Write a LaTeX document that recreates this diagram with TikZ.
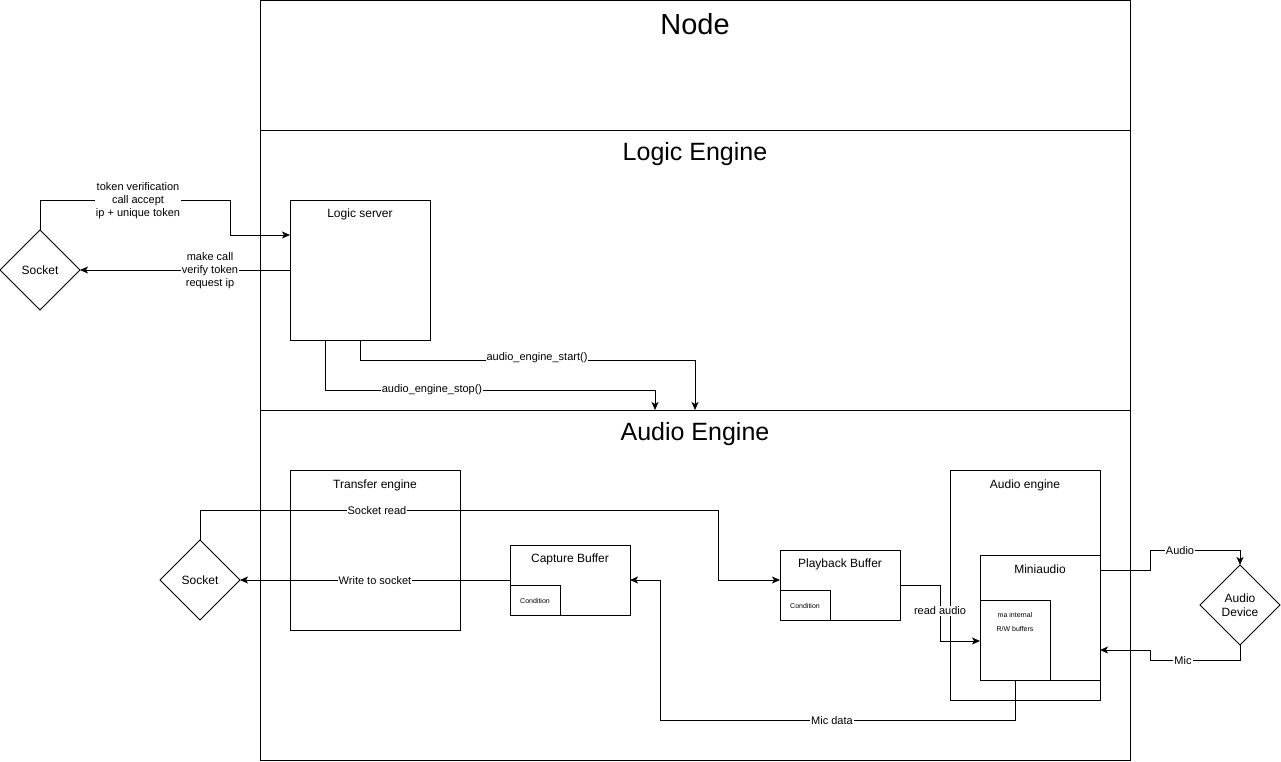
\documentclass[tikz,border=0pt]{standalone}
\usepackage{fontspec}
\setmainfont{Liberation Sans}
\usetikzlibrary{shapes.geometric,arrows.meta}
\begin{document}
\begin{tikzpicture}[x=1pt,y=-1pt,line width=1pt,
  rect/.style 2 args={draw,anchor=north west,inner sep=0pt,outer sep=0pt,minimum width=#1pt,minimum height=#2pt},
  dia/.style={draw,diamond,aspect=1,inner sep=0pt,outer sep=0pt,minimum width=80pt,minimum height=80pt,align=center,font=\fontsize{12}{14}\selectfont},
  title/.style={font=\fontsize{25}{28}\selectfont,inner sep=0pt},
  blbl/.style={font=\fontsize{12}{14}\selectfont,inner sep=0pt},
  tiny/.style={font=\fontsize{7}{14}\selectfont,inner sep=0pt,align=center},
  elbl/.style={font=\fontsize{11}{13}\selectfont,fill=white,inner sep=1pt,align=center},
  arr/.style={-{Stealth[length=8pt,width=7pt,inset=2pt]}}]
\useasboundingbox (0,0) rectangle (1281,761);
% sections
\node[rect={870}{130}] (sN) at (260,0.5) {};
\node[rect={870}{280}] (sLE) at (260,130) {};
\node[rect={870}{350}] (sAE) at (260,410) {};
\node[title,font=\fontsize{29}{32}\selectfont] (tN) at (695,24) {Node};
\node[title] (tLE) at (695,154) {Logic Engine};
\node[title] (tAE) at (695,434) {Audio Engine};
% logic engine
\node[rect={140}{140}] (ls) at (290,200) {};
\node[blbl] (lsT) at (360,214) {Logic server};
\node[dia] (s1) at (40,270) {Socket};
\draw[arr] (s1.north) -- (40,200) -- (230,200) -- (230,235) -- (ls.west |- 0,235);
\node[elbl] (l1) at (138,201) {token verification\\call accept\\ip + unique token};
\draw[arr] (ls.west |- 0,270) -- (s1.east);
\node[elbl] (l2) at (210,271) {make call\\verify token\\request ip};
\draw[arr] (ls.south -| 360,0) -- (360,360) -- (695,360) -- (sAE.north);
\node[elbl] (l3) at (537,358) {audio\_engine\_start()};
\draw[arr] (ls.south -| 325,0) -- (325,390) -- (655,390) -- (sAE.north -| 655,0);
\node[elbl] (l4) at (432,390) {audio\_engine\_stop()};
% audio engine
\node[rect={170}{160}] (te) at (290,470) {};
\node[blbl] (teT) at (375,485) {Transfer engine};
\node[dia] (s2) at (200,580) {Socket};
\node[rect={120}{70}] (cb) at (510,545) {};
\node[blbl] (cbT) at (570,559) {Capture Buffer};
\node[rect={50}{30}] (cbc) at (510,585) {};
\node[tiny] (cbcT) at (535,601) {Condition};
\node[rect={120}{70}] (pb) at (780,550) {};
\node[blbl] (pbT) at (840,564) {Playback Buffer};
\node[rect={50}{30}] (pbc) at (780,590) {};
\node[tiny] (pbcT) at (805,606) {Condition};
\node[rect={150}{230}] (aeb) at (950,470) {};
\node[blbl] (aebT) at (1025,485) {Audio engine};
\node[rect={120}{125}] (mini) at (980,555) {};
\node[blbl] (miniT) at (1040,569) {Miniaudio};
\node[tiny] (maT) at (1015,622) {ma internal\\R/W buffers};
\node[rect={70}{80}] (ma) at (980,600) {};
\node[dia] (ad) at (1240,605) {Audio\\Device};
\draw[arr] (s2.north) -- (200,510) -- (718,510) -- (718,580) -- (pb.west |- 0,580);
\node[elbl] (l5) at (377,511) {Socket read};
\draw[arr] (cb.west |- 0,580) -- (s2.east);
\node[elbl] (l6) at (375,581) {Write to socket};
\draw[arr] (pb.east |- 0,585) -- (940,585) -- (940,641) -- (ma.west |- 0,641);
\node[elbl] (l7) at (940,611) {read audio};
\draw[arr] (ma.south) -- (1015,720) -- (660,720) -- (660,580) -- (cb.east |- 0,580);
\node[elbl] (l8) at (832,721) {Mic data};
\draw[arr] (mini.east |- 0,570) -- (1150,570) -- (1150,550) -- (1240,550) -- (ad.north);
\node[elbl] (l9) at (1180,551) {Audio};
\draw[arr] (ad.south) -- (1240,660) -- (1150,660) -- (1150,650) -- (mini.east |- 0,650);
\node[elbl] (l10) at (1183,661) {Mic};
\end{tikzpicture}
\end{document}
